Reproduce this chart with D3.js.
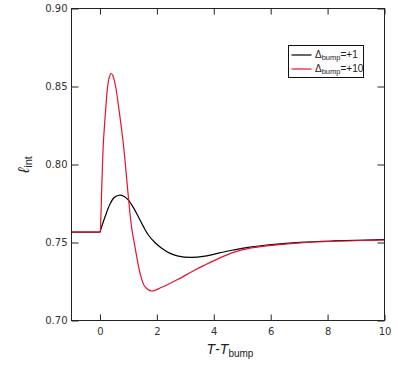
<!DOCTYPE html>
<html>
<head>
<meta charset="utf-8">
<script src="https://cdn.jsdelivr.net/npm/d3@7"></script>
<style>
  body { margin: 0; background: #fff; }
  .axis text { font-family: "DejaVu Sans", sans-serif; font-size: 10px; fill: #333; }
  .axis line { stroke: #222; }
  .axis path { display: none; }
</style>
</head>
<body>
<div id="chart"></div>
<script>
// values
const xTicks = [0, 2, 4, 6, 8, 10];
const yTicks = [0.70, 0.75, 0.80, 0.85, 0.90];

const blackX = [-1, -0.5, -0.03, 0, 0.04, 0.18, 0.35, 0.5, 0.67, 0.85, 1.0, 1.17, 1.35, 1.52, 1.7, 1.93, 2.17, 2.45, 2.75, 3.2, 3.69, 4.2, 4.69, 5.2, 5.86, 7.03, 8.2, 10];
const blackY = [0.7567, 0.7567, 0.7567, 0.7567, 0.7590, 0.7665, 0.7745, 0.7788, 0.7803, 0.7795, 0.7772, 0.7725, 0.7665, 0.7605, 0.7548, 0.7500, 0.7463, 0.7432, 0.7413, 0.7405, 0.7413, 0.7433, 0.7452, 0.7469, 0.7484, 0.7501, 0.7510, 0.7518];

const redX = [-1, -0.5, -0.02, 0, 0.03, 0.06, 0.09, 0.12, 0.2, 0.27, 0.33, 0.39, 0.45, 0.55, 0.67, 0.82, 1.0, 1.11, 1.23, 1.41, 1.58, 1.82, 2.17, 2.45, 2.75, 3.34, 3.69, 4.2, 4.69, 5.2, 5.86, 7.03, 8.2, 10];
const redY = [0.7567, 0.7567, 0.7567, 0.7567, 0.7650, 0.7840, 0.8000, 0.8136, 0.8350, 0.8500, 0.8560, 0.8585, 0.8570, 0.8500, 0.8350, 0.8136, 0.7790, 0.7600, 0.7473, 0.7303, 0.7217, 0.7189, 0.7213, 0.7237, 0.7264, 0.7324, 0.7356, 0.7400, 0.7437, 0.7461, 0.7478, 0.7497, 0.7508, 0.7516];

const seriesNames = ['+1', '+10'];
const seriesColors = ['#000000', '#e8112d'];

const width = 398, height = 366;
const margin = {top: 8.5, right: 13.5, bottom: 45.5, left: 71.5};

const svg = d3.select('#chart').append('svg')
  .attr('width', width)
  .attr('height', height);

const x = d3.scaleLinear().domain([-1, 10]).range([margin.left, width - margin.right]);
const y = d3.scaleLinear().domain([0.70, 0.90]).range([height - margin.bottom, margin.top]);

// axes, ticks pointing inward, mirrored on top/right
svg.append('g').attr('class', 'axis')
  .attr('transform', `translate(0,${y(0.70)})`)
  .call(d3.axisBottom(x).tickValues(xTicks).tickSizeInner(-6).tickSizeOuter(0).tickPadding(7.5).tickFormat(d3.format('d')));
svg.append('g').attr('class', 'axis')
  .attr('transform', `translate(0,${y(0.90)})`)
  .call(d3.axisTop(x).tickValues(xTicks).tickSizeInner(-6).tickSizeOuter(0).tickFormat(''));
svg.append('g').attr('class', 'axis')
  .attr('transform', `translate(${x(-1)},0)`)
  .call(d3.axisLeft(y).tickValues(yTicks).tickSizeInner(-7).tickSizeOuter(0).tickPadding(4).tickFormat(d3.format('.2f')));
svg.append('g').attr('class', 'axis')
  .attr('transform', `translate(${x(10)},0)`)
  .call(d3.axisRight(y).tickValues(yTicks).tickSizeInner(-7).tickSizeOuter(0).tickFormat(''));

// frame
svg.append('rect')
  .attr('x', x(-1)).attr('y', y(0.90))
  .attr('width', x(10) - x(-1)).attr('height', y(0.70) - y(0.90))
  .attr('fill', 'none').attr('stroke', '#222').attr('stroke-width', 1);

const line = d3.line()
  .x(d => x(d[0]))
  .y(d => y(d[1]))
  .curve(d3.curveCatmullRom.alpha(0.5));

const series = [
  d3.zip(blackX, blackY),
  d3.zip(redX, redY)
];

svg.append('defs').append('clipPath').attr('id', 'clip')
  .append('rect')
  .attr('x', x(-1)).attr('y', y(0.90))
  .attr('width', x(10) - x(-1)).attr('height', y(0.70) - y(0.90));

svg.append('g').attr('clip-path', 'url(#clip)')
  .selectAll('path')
  .data(series)
  .join('path')
  .attr('d', line)
  .attr('fill', 'none')
  .attr('stroke', (d, i) => seriesColors[i])
  .attr('stroke-width', 1.2);

// axis titles
const xt = svg.append('text')
  .attr('x', (x(-1) + x(10)) / 2 + 2)
  .attr('y', 354)
  .attr('text-anchor', 'middle')
  .style('font-family', '"Liberation Sans", Arial, sans-serif')
  .style('font-size', '14px')
  .attr('fill', '#222');
xt.append('tspan').style('font-style', 'italic').text('T');
xt.append('tspan').text('-');
xt.append('tspan').style('font-style', 'italic').text('T');
xt.append('tspan').attr('dy', 3).style('font-size', '10px').text('bump');

const yt = svg.append('text')
  .attr('transform', `translate(29,${(y(0.70) + y(0.90)) / 2}) rotate(-90)`)
  .attr('text-anchor', 'middle')
  .style('font-family', '"Liberation Sans", Arial, sans-serif')
  .style('font-size', '16px')
  .attr('fill', '#222');
yt.append('tspan').style('font-style', 'italic').text('ℓ');
yt.append('tspan').attr('dy', 3).style('font-size', '11px').text('int');

// legend
const lg = svg.append('g').attr('transform', 'translate(288.5,45.5)');
lg.append('rect')
  .attr('width', 75).attr('height', 32)
  .attr('fill', '#fff').attr('stroke', '#111').attr('stroke-width', 1);
seriesNames.forEach((name, i) => {
  const yy = 9.5 + i * 14;
  lg.append('line')
    .attr('x1', 3).attr('x2', 23)
    .attr('y1', yy).attr('y2', yy)
    .attr('stroke', seriesColors[i]).attr('stroke-width', 1.2);
  const t = lg.append('text')
    .attr('x', 26.5).attr('y', yy + 3)
    .style('font-family', '"Liberation Sans", Arial, sans-serif')
    .style('font-size', '10px')
    .attr('fill', '#222');
  t.append('tspan').text('Δ');
  t.append('tspan').attr('dy', 2).style('font-size', '7.5px').text('bump');
  t.append('tspan').attr('dy', -2).text('=' + name);
});
</script>
</body>
</html>
